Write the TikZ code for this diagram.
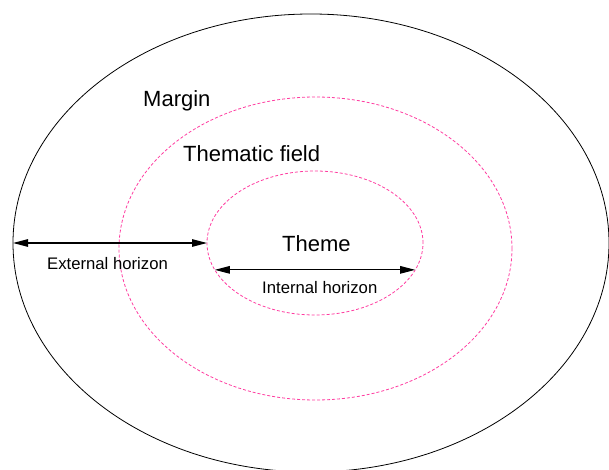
\documentclass[tikz,border=0pt]{standalone}
\usepackage{fontspec}
\setmainfont{Liberation Sans}
\usetikzlibrary{shapes.geometric,arrows.meta}
\definecolor{rose}{RGB}{255,60,160}
\begin{document}
\begin{tikzpicture}[x=1pt,y=1pt]
% Styles
\tikzstyle{bord}=[ellipse,draw=black,line width=0.8pt,inner sep=0pt,outer sep=0pt]
\tikzstyle{pointille}=[ellipse,draw=rose,line width=0.8pt,dash pattern=on 3pt off 2pt,inner sep=0pt,outer sep=0pt]
\tikzstyle{fleche}=[<->,>={Triangle[length=15pt,width=7.5pt]},line width=1.1pt]
\tikzstyle{grand}=[anchor=base west,inner sep=0pt,font=\fontsize{22}{26}\selectfont]
\tikzstyle{petit}=[anchor=base west,inner sep=0pt,font=\fontsize{16.7}{20}\selectfont]
% Cadre
\useasboundingbox (0,0) rectangle (609,469);
% Ellipses
\node[bord,minimum width=596,minimum height=458] (marge) at (311,226) {};
\node[pointille,minimum width=393,minimum height=303] (champ) at (315.5,220.5) {};
\node[pointille,minimum width=216,minimum height=144] (theme) at (315,226) {};
% Textes
\node[grand] (lblmarge) at (143,362) {Margin};
\node[grand] (lblchamp) at (183,307) {Thematic field};
\node[grand] (lbltheme) at (282,218) {Theme};
\node[petit] (lblext) at (47,200) {External horizon};
\node[petit] (lblint) at (262,176) {Internal horizon};
% Flèches
\draw[fleche] (marge.west) -- (theme.west);
\draw[fleche] (theme.195.1) -- (theme.-15.1);
\end{tikzpicture}
\end{document}
